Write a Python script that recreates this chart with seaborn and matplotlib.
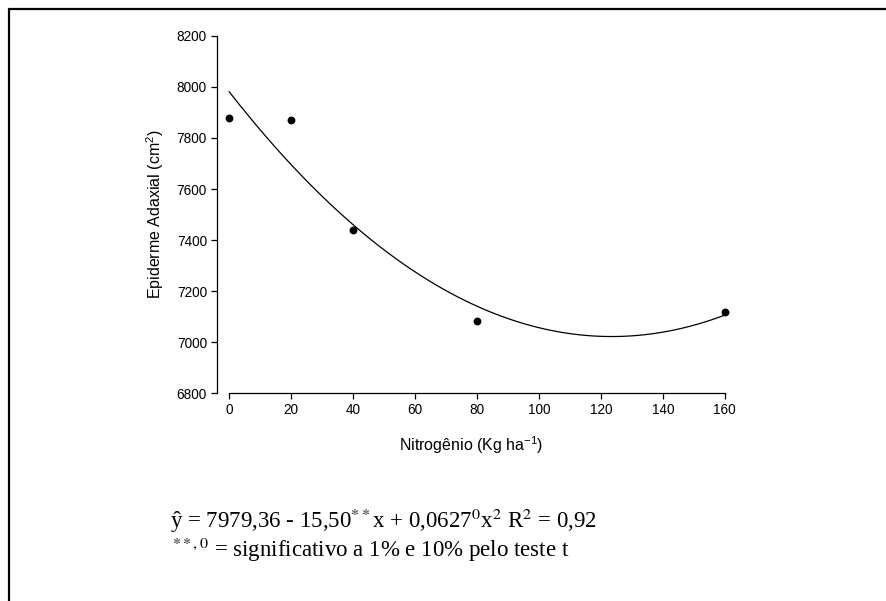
import numpy as np
import pandas as pd
import seaborn as sns
import matplotlib.pyplot as plt
from matplotlib.lines import Line2D

# data
nitrogen = [0, 20, 40, 80, 160]
epiderme = [7876, 7869, 7438, 7083, 7120]
y_ticks = [6800, 7000, 7200, 7400, 7600, 7800, 8000, 8200]
x_ticks = [0, 20, 40, 60, 80, 100, 120, 140, 160]

df = pd.DataFrame({"N": nitrogen, "EA": epiderme})

sns.set_theme(style="white")
plt.rcParams['font.family'] = ['Liberation Sans', 'DejaVu Sans']
plt.rcParams['text.color'] = 'black'
plt.rcParams['axes.labelcolor'] = 'black'
plt.rcParams['mathtext.fontset'] = 'custom'
plt.rcParams['mathtext.rm'] = 'Liberation Sans'
plt.rcParams['mathtext.it'] = 'Liberation Sans:italic'

fig = plt.figure(figsize=(8.86, 6.01), dpi=100)
ax = fig.add_axes([0.2446, 0.3453, 0.818 - 0.2446, 0.9406 - 0.3453])

# quadratic fit drawn by seaborn
sns.regplot(data=df, x="N", y="EA", order=2, ci=None, scatter=False,
            line_kws=dict(color="black", lw=0.9), ax=ax)
sns.scatterplot(data=df, x="N", y="EA", color="black", s=32, edgecolor="black",
                linewidth=0, ax=ax, clip_on=False, zorder=5)

ax.set_xlim(-4, 160)
ax.set_ylim(6800, 8200)
ax.set_xticks(x_ticks)
ax.set_yticks(y_ticks)
ax.spines['top'].set_visible(False)
ax.spines['right'].set_visible(False)
ax.spines['bottom'].set_bounds(0, 160)
ax.spines['left'].set_bounds(6800, 8200)
for s in ['left', 'bottom']:
    ax.spines[s].set_color('black')
    ax.spines[s].set_linewidth(0.9)
ax.tick_params(direction='out', length=4, width=0.9, color='black',
               labelsize=9.8, labelcolor='black', left=True, bottom=True, pad=3)

ax.set_ylabel("Epiderme Adaxial (cm$^2$)", fontsize=11.5, labelpad=8)
ax.set_xlabel("Nitrogênio (Kg ha$^{-1}$)", fontsize=11.5, labelpad=12)

# equation text
eq1 = "ŷ = 7979,36 - 15,50$^{**}$x + 0,0627$^{0}$x$^{2}$ R$^{2}$ = 0,92"
eq2 = "$^{**,0}$ = significativo a 1% e 10% pelo teste t"
fig.text(170 / 886, 1 - 528 / 601, eq1, fontsize=16.5, family='Liberation Serif',
         math_fontfamily='stix', va='baseline', ha='left', color='black')
fig.text(172 / 886, 1 - 557 / 601, eq2, fontsize=16.5, family='Liberation Serif',
         math_fontfamily='stix', va='baseline', ha='left', color='black')

# frame lines (top and left)
fig.add_artist(Line2D([8.5 / 886, 1], [1 - 9 / 601, 1 - 9 / 601], color='black', lw=1.6,
                      transform=fig.transFigure))
fig.add_artist(Line2D([8.5 / 886, 8.5 / 886], [0, 1 - 9 / 601], color='black', lw=1.6,
                      transform=fig.transFigure))

fig.savefig("out.png", dpi=100)
